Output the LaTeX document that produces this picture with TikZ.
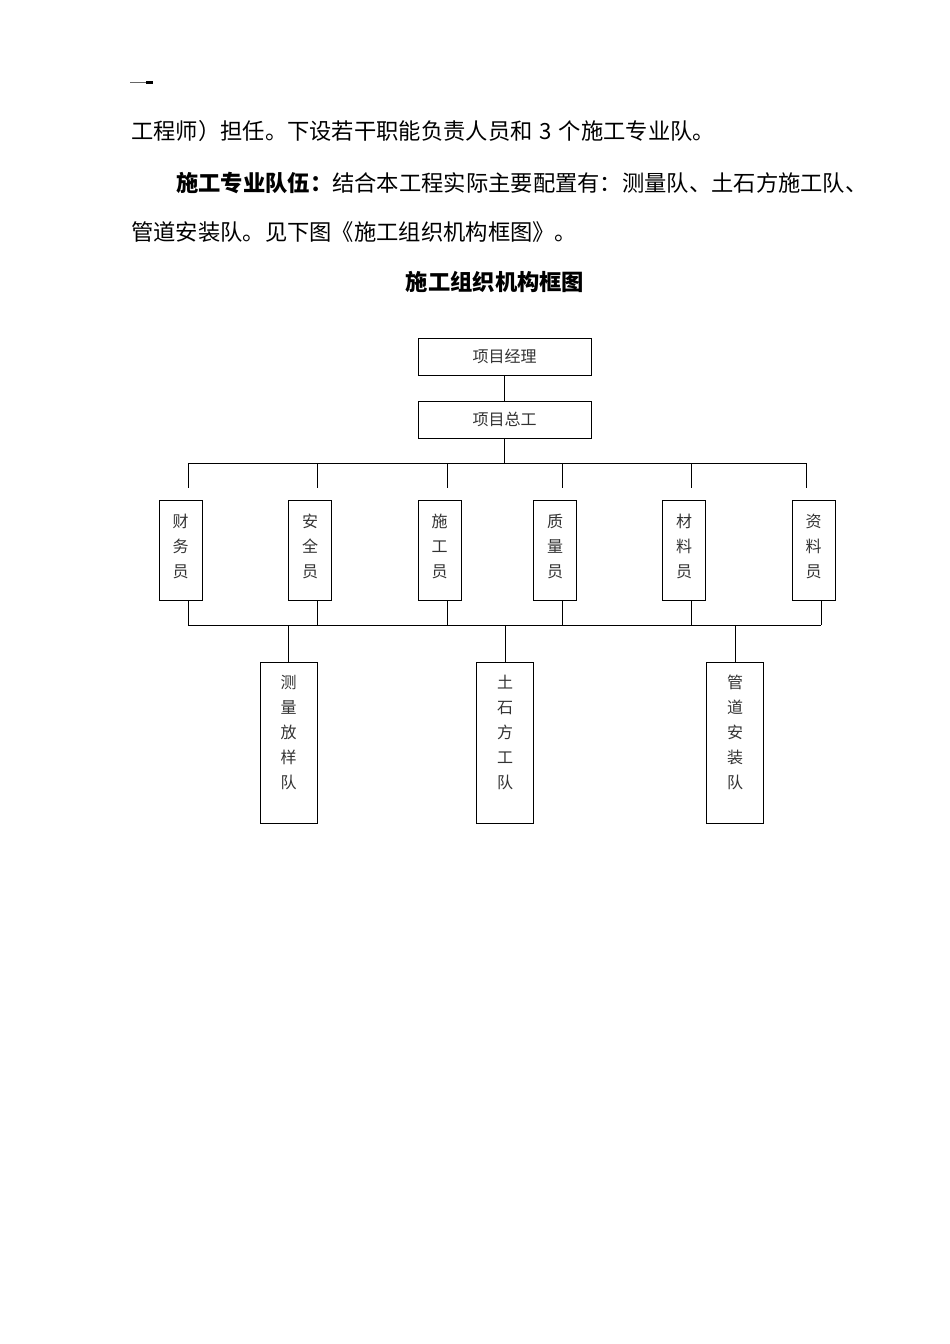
\documentclass[tikz,border=0pt]{standalone}
\usepackage{fontspec}
\newfontfamily\cjk{Noto Sans CJK SC}
\usetikzlibrary{positioning}
\tikzset{
  orgbox/.style={draw,line width=1pt,minimum width=173pt,minimum height=37pt,
    inner sep=0pt,text=black!80,font=\cjk\fontsize{16}{25}\selectfont},
  staffbox/.style={orgbox,minimum width=43pt,minimum height=100pt,align=center,text depth=8pt},
  teambox/.style={orgbox,minimum width=57pt,minimum height=161pt,align=center,text depth=22pt},
  bodytext/.style={anchor=west,inner sep=0pt,font=\cjk\fontsize{22.3}{22}\selectfont},
  link/.style={line width=1pt}
}
\begin{document}
\begin{tikzpicture}[x=1pt,y=-1pt]
    \fill[white] (0,0) rectangle (950,1344);
    \useasboundingbox (0,0) rectangle (950,1344);

    \draw[black!60,line width=1pt] (130,82.5) -- (147,82.5);
    \fill (146,80.5) rectangle (153,84);

    \node[bodytext] (line1) at (131,131) {工程师）担任。下设若干职能负责人员和\hspace{7pt}3\hspace{7pt}个施工专业队。};
    \node[bodytext] (line2) at (176,183) {\textbf{施工专业队伍：}结合本工程实际主要配置有：测量队、土石方施工队、};
    \node[bodytext] (line3) at (131,232) {管道安装队。见下图《施工组织机构框图》。};
    \node[bodytext,anchor=center] (title) at (495,282) {\textbf{施工组织机构框图}};

    \node[orgbox] (jingli) at (504.5,356.5) {项目经理};
    \node[orgbox] (zonggong) at (504.5,419.5) {项目总工};

    \node[staffbox] (caiwu) at (180.5,550) {财\\务\\员};
    \node[staffbox] (anquan) at (310,550) {安\\全\\员};
    \node[staffbox] (shigong) at (439.5,550) {施\\工\\员};
    \node[staffbox] (zhiliang) at (555,550) {质\\量\\员};
    \node[staffbox] (cailiao) at (684,550) {材\\料\\员};
    \node[staffbox] (ziliao) at (813.5,550) {资\\料\\员};

    \node[teambox] (celiang) at (288.5,742.5) {测\\量\\放\\样\\队};
    \node[teambox] (tushi) at (505,742.5) {土\\石\\方\\工\\队};
    \node[teambox] (guandao) at (735,742.5) {管\\道\\安\\装\\队};

    % upper bus
    \coordinate (t0) at (504.5,463);
    \coordinate (t1) at (188,463);
    \coordinate (t2) at (317,463);
    \coordinate (t3) at (447,463);
    \coordinate (t4) at (562,463);
    \coordinate (t5) at (691,463);
    \coordinate (t6) at (806,463);
    % lower bus
    \coordinate (b1) at (188,625);
    \coordinate (b2) at (317,625);
    \coordinate (b3) at (447,625);
    \coordinate (b4) at (562,625);
    \coordinate (b5) at (691,625);
    \coordinate (b6) at (821,625);

    \draw[link] (jingli) -- (zonggong);
    \draw[link] (zonggong) -- (t0);
    \draw[link] (t1) -- (t6);
    \draw[link,shorten >=12pt] (t1) -- (t1 |- caiwu.north);
    \draw[link,shorten >=12pt] (t2) -- (t2 |- anquan.north);
    \draw[link,shorten >=12pt] (t3) -- (t3 |- shigong.north);
    \draw[link,shorten >=12pt] (t4) -- (t4 |- zhiliang.north);
    \draw[link,shorten >=12pt] (t5) -- (t5 |- cailiao.north);
    \draw[link,shorten >=12pt] (t6) -- (t6 |- ziliao.north);

    \draw[link] (b1) -- (b6);
    \draw[link] (b1) -- (b1 |- caiwu.south);
    \draw[link] (b2) -- (b2 |- anquan.south);
    \draw[link] (b3) -- (b3 |- shigong.south);
    \draw[link] (b4) -- (b4 |- zhiliang.south);
    \draw[link] (b5) -- (b5 |- cailiao.south);
    \draw[link] (b6) -- (b6 |- ziliao.south);

    \draw[link] (celiang.north |- b1) -- (celiang.north);
    \draw[link] (tushi.north |- b1) -- (tushi.north);
    \draw[link] (guandao.north |- b1) -- (guandao.north);
\end{tikzpicture}
\end{document}
